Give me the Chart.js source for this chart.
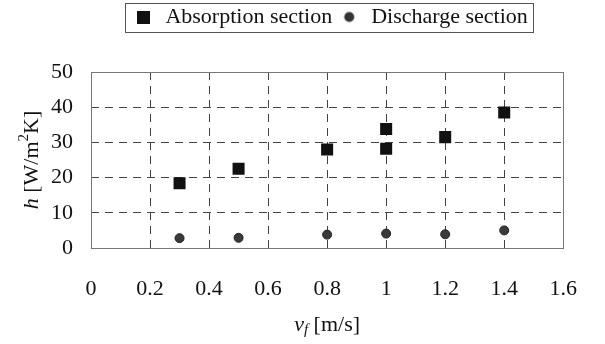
<!DOCTYPE html>
<html lang="en">
  <head>
    <meta charset="UTF-8" />
    <title>Heat transfer coefficient</title>
    <script src="https://cdn.jsdelivr.net/npm/chart.js"></script>
    <style>
      html, body { margin: 0; padding: 0; background: #fff; }
      #wrap { width: 605px; height: 344px; }
    </style>
  </head>
  <body>
    <div id="wrap"><canvas id="chart" width="605" height="344"></canvas></div>
    <script>
      // values
      const absorptionV = [0.3, 0.5, 0.8, 1.0, 1.0, 1.2, 1.4];
      const absorptionH = [18.4, 22.5, 28.0, 33.8, 28.2, 31.5, 38.5];
      const dischargeV = [0.3, 0.5, 0.8, 1.0, 1.2, 1.4];
      const dischargeH = [2.8, 2.9, 3.8, 4.1, 3.9, 5.0];
      const xTicks = [0, 0.2, 0.4, 0.6, 0.8, 1, 1.2, 1.4, 1.6];
      const yTicks = [0, 10, 20, 30, 40, 50];

      const serif = "'Liberation Serif', 'Times New Roman', serif";

      const toPoints = (xs, ys) => xs.map((x, i) => ({ x: x, y: ys[i] }));

      // small legend icons
      function icon(kind) {
        const c = document.createElement("canvas");
        c.width = 13;
        c.height = 13;
        const g = c.getContext("2d");
        if (kind === "rect") {
          g.fillStyle = "#111";
          g.fillRect(0, 0, 13, 13);
        } else {
          g.fillStyle = "#333";
          g.beginPath();
          g.arc(6.5, 6.5, 5, 0, Math.PI * 2);
          g.fill();
        }
        return c;
      }
      const legendIcons = [icon("rect"), icon("circle")];

      const extras = {
        id: "extras",
        afterInit(chart) {
          // reserve room under the legend so the plot starts lower
          const legend = chart.legend;
          const fit = legend.fit;
          legend.fit = function () {
            fit.call(this);
            this.height = 72;
          };
        },
        afterLayout(chart) {
          // centre the legend over the plot, not the whole canvas
          const legend = chart.legend;
          const a = chart.chartArea;
          const shift = (a.left + a.right) / 2 - (legend.left + legend.right) / 2 + 3;
          legend.left += shift;
          legend.right += shift;
        },
        beforeDatasetsDraw(chart) {
          const a = chart.chartArea;
          const ctx = chart.ctx;
          ctx.save();
          ctx.strokeStyle = "#777";
          ctx.lineWidth = 1;
          ctx.strokeRect(Math.round(a.left) + 0.5, Math.round(a.top) + 0.5, Math.round(a.right - a.left), Math.round(a.bottom - a.top));
          ctx.restore();
        },
        afterDraw(chart) {
          const ctx = chart.ctx;
          const area = chart.chartArea;
          const boxes = chart.legend.legendHitBoxes;
          ctx.save();
          if (boxes && boxes.length) {
            const first = boxes[0];
            const last = boxes[boxes.length - 1];
            const l = Math.round(first.left - 7) + 0.5;
            const r = Math.round(last.left + last.width + 5) + 0.5;
            ctx.strokeStyle = "#555";
            ctx.lineWidth = 1;
            ctx.strokeRect(l, 3.5, r - l, 29);
          }
          ctx.fillStyle = "#111";
          ctx.textBaseline = "middle";

          // x title: v_f [m/s]
          const parts = [
            { t: "v", f: "italic 22px " + serif, dy: 0 },
            { t: "f", f: "italic 15px " + serif, dy: 5 },
            { t: " [m/s]", f: "22px " + serif, dy: 0 }
          ];
          let w = 0;
          parts.forEach((p) => { ctx.font = p.f; w += ctx.measureText(p.t).width; });
          let x = (area.left + area.right) / 2 - w / 2;
          parts.forEach((p) => {
            ctx.font = p.f;
            ctx.fillText(p.t, x, 325 + p.dy);
            x += ctx.measureText(p.t).width;
          });

          // y title: h [W/m^2K]
          const yparts = [
            { t: "h", f: "italic 22px " + serif, dy: 0 },
            { t: " [W/m", f: "22px " + serif, dy: 0 },
            { t: "2", f: "15px " + serif, dy: -8 },
            { t: "K]", f: "22px " + serif, dy: 0 }
          ];
          w = 0;
          yparts.forEach((p) => { ctx.font = p.f; w += ctx.measureText(p.t).width; });
          ctx.translate(32, (area.top + area.bottom) / 2);
          ctx.rotate(-Math.PI / 2);
          x = -w / 2;
          yparts.forEach((p) => {
            ctx.font = p.f;
            ctx.fillText(p.t, x, p.dy);
            x += ctx.measureText(p.t).width;
          });
          ctx.restore();
        }
      };

      new Chart(document.getElementById("chart"), {
        type: "scatter",
        data: {
          datasets: [
            {
              label: "Absorption section",
              data: toPoints(absorptionV, absorptionH),
              pointStyle: "rect",
              pointRadius: 8.5,
              pointHoverRadius: 8.5,
              backgroundColor: "#111",
              borderColor: "#111",
              borderWidth: 0
            },
            {
              label: "Discharge section",
              data: toPoints(dischargeV, dischargeH),
              pointStyle: "circle",
              pointRadius: 4.5,
              pointHoverRadius: 4.5,
              backgroundColor: "#3a3a3a",
              borderColor: "#222",
              borderWidth: 1
            }
          ]
        },
        options: {
          responsive: false,
          animation: false,
          layout: { padding: { top: 0, right: 34, bottom: 0, left: 0 } },
          plugins: {
            tooltip: { enabled: false },
            legend: {
              position: "top",
              labels: {
                usePointStyle: true,
                boxHeight: 13,
                color: "#111",
                font: { family: serif, size: 22 },
                padding: 6,
                generateLabels: (chart) =>
                  chart.data.datasets.map((ds, i) => ({
                    text: ds.label,
                    pointStyle: legendIcons[i],
                    fontColor: "#111",
                    lineWidth: 0,
                    datasetIndex: i
                  }))
              }
            }
          },
          scales: {
            x: {
              type: "linear",
              min: 0,
              max: 1.6,
              afterFit: (s) => { s.height = 96; },
              afterBuildTicks: (s) => { s.ticks = xTicks.map((v) => ({ value: v })); },
              ticks: {
                color: "#111",
                padding: 28,
                font: { family: serif, size: 22 },
                callback: (v) => String(v)
              },
              grid: { color: "#444", lineWidth: 1, drawTicks: false },
              border: { display: false, dash: [8, 6] },
              title: { display: false }
            },
            y: {
              min: 0,
              max: 50,
              afterFit: (s) => { s.width = 91; },
              afterBuildTicks: (s) => { s.ticks = yTicks.map((v) => ({ value: v })); },
              ticks: {
                color: "#111",
                padding: 18,
                font: { family: serif, size: 22 }
              },
              grid: { color: "#444", lineWidth: 1, drawTicks: false },
              border: { display: false, dash: [8, 6] },
              title: { display: false }
            }
          }
        },
        plugins: [extras]
      });
    </script>
  </body>
</html>
